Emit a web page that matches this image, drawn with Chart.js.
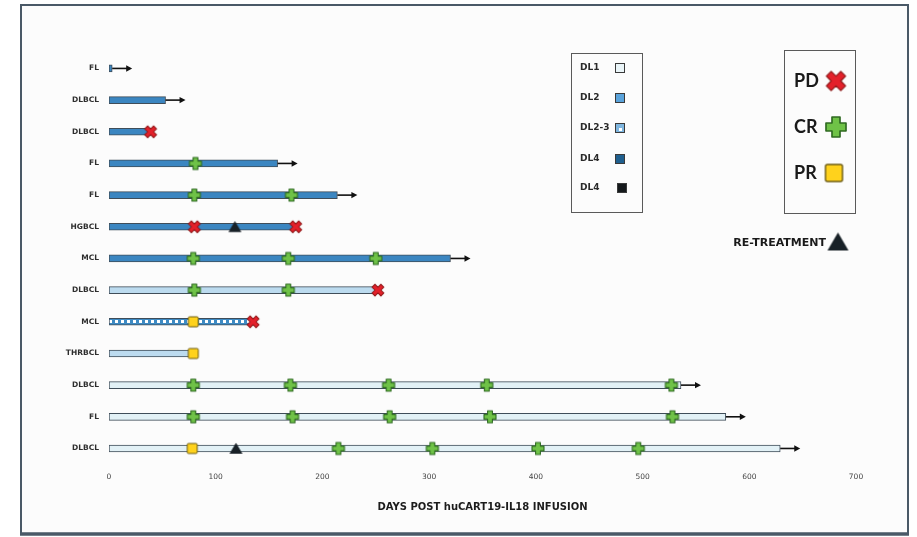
<!DOCTYPE html>
<html>
<head>
<meta charset="utf-8">
<script src="https://cdn.jsdelivr.net/npm/chart.js@4.4.1/dist/chart.umd.min.js"></script>
<style>
  html, body { margin: 0; padding: 0; background: #ffffff; }
  #wrap { width: 917px; height: 537px; position: relative; }
</style>
</head>
<body>
<div id="wrap"><canvas id="swimmer" width="917" height="537"></canvas></div>
<script>
// ---- Patient swimmer data (days post infusion) ----
const patients = ['FL', 'DLBCL', 'DLBCL', 'FL', 'FL', 'HGBCL', 'MCL', 'DLBCL', 'MCL', 'THRBCL', 'DLBCL', 'FL', 'DLBCL'];
const doseLevel = ['DL2', 'DL2', 'DL2', 'DL2', 'DL2', 'DL4', 'DL4', 'DL1', 'DL2-3', 'DL1', 'DL1', 'DL1', 'DL1'];
const followUpDays = [3, 53, 39, 158, 214, 175, 320, 252, 135, 79, 536, 578, 629];
const ongoing = [true, true, false, true, true, false, true, false, false, false, true, true, true];
const crDays = [[], [], [], [81], [80, 171], [], [79, 168, 250], [80, 168], [], [], [79, 170, 262, 354, 527], [79, 172, 263, 357, 528], [215, 303, 402, 496]];
const pdDays = [[], [], [39], [], [], [80, 175], [], [252], [135], [], [], [], []];
const prDays = [[], [], [], [], [], [], [], [], [79], [79], [], [], [78]];
const retreatDays = [[], [], [], [], [], [118], [], [], [], [], [], [], [119]];
const xTicks = [0, 100, 200, 300, 400, 500, 600, 700];
const axisTitle = 'DAYS POST huCART19-IL18 INFUSION';
const doseLegend = ['DL1', 'DL2', 'DL2-3', 'DL4', 'DL4'];
const responseLegend = ['PD', 'CR', 'PR'];
const retreatLabel = 'RE-TREATMENT';

// ---- Styling ----
const FONT = "'DejaVu Sans', 'Open Sans', sans-serif";
const KEY_FONT = "Lato, 'Open Sans', sans-serif";
const BAR_THICKNESS = 7;
const rowShade = ['#3b86c1', '#3b86c1', '#3b86c1', '#3b86c1', '#3b86c1', '#3b86c1', '#3b86c1',
                  '#bcdbef', null, '#bcdbef', '#e2f1f6', '#e2f1f6', '#e2f1f6'];

function dottedPattern(base, dot) {
  const c = document.createElement('canvas');
  c.width = 6; c.height = 7;
  const g = c.getContext('2d');
  g.fillStyle = base; g.fillRect(0, 0, 6, 7);
  g.fillStyle = dot; g.fillRect(1, 2, 3, 3);
  return document.createElement('canvas').getContext('2d').createPattern(c, 'repeat');
}
const dl23Fill = dottedPattern('#3d8ac3', '#ffffff');

function crossPath(g, s, t) {
  g.beginPath();
  g.moveTo(-t, -s); g.lineTo(t, -s); g.lineTo(t, -t); g.lineTo(s, -t);
  g.lineTo(s, t); g.lineTo(t, t); g.lineTo(t, s); g.lineTo(-t, s);
  g.lineTo(-t, t); g.lineTo(-s, t); g.lineTo(-s, -t); g.lineTo(-t, -t);
  g.closePath();
}

function makeMarker(kind, size) {
  const pad = 3;
  const c = document.createElement('canvas');
  c.width = size + pad * 2; c.height = size + pad * 2;
  const g = c.getContext('2d');
  g.translate(c.width / 2, c.height / 2);
  g.lineJoin = 'round';
  if (kind === 'cr') {
    crossPath(g, size / 2, size * 0.2);
    g.fillStyle = '#6fc247'; g.fill();
    g.lineWidth = Math.max(1.1, size / 12); g.strokeStyle = '#2f6a22'; g.stroke();
  } else if (kind === 'pd') {
    g.rotate(Math.PI / 4);
    crossPath(g, size * 0.6, size * 0.2);
    g.fillStyle = '#e3202a'; g.fill();
    g.lineWidth = Math.max(1, size / 14); g.strokeStyle = '#8e1818'; g.stroke();
  } else if (kind === 'pr') {
    const h = size / 2;
    g.beginPath();
    g.roundRect(-h, -h, size, size, size * 0.12);
    g.fillStyle = '#ffd21c'; g.fill();
    g.lineWidth = Math.max(1, size / 12); g.strokeStyle = '#6d5c12'; g.stroke();
  } else if (kind === 'rt') {
    const h = size / 2;
    g.beginPath();
    g.moveTo(0, -h * 0.9); g.lineTo(h, h * 0.8); g.lineTo(-h, h * 0.8); g.closePath();
    g.fillStyle = '#182127'; g.fill();
  }
  return c;
}

const markers = {
  cr: makeMarker('cr', 12),
  pd: makeMarker('pd', 10.5),
  pr: makeMarker('pr', 10),
  rt: makeMarker('rt', 13)
};

function toPoints(list) {
  return list.flatMap((days, row) => days.map(d => ({ x: d, y: row })));
}

// ---- Plugins: frame, ongoing-follow-up arrows, legends ----
const framePlugin = {
  id: 'frame',
  beforeDraw(chart) {
    const g = chart.ctx;
    g.save();
    g.fillStyle = '#fcfcfc';
    g.fillRect(21, 5, 887, 529);
    g.restore();
  },
  beforeDatasetsDraw(chart) {
    // line the dotted fill up with the bar it belongs to
    const row = doseLevel.indexOf('DL2-3');
    if (row < 0 || !dl23Fill.setTransform) return;
    const top = Math.round(chart.scales.y.getPixelForValue(row) - BAR_THICKNESS / 2);
    dl23Fill.setTransform(new DOMMatrix().translate(0, top));
  },
  afterDraw(chart) {
    const g = chart.ctx;
    g.save();
    g.strokeStyle = '#4a5967';
    g.lineWidth = 2;
    g.strokeRect(21, 5, 887, 529);
    g.lineWidth = 3.5;
    g.beginPath(); g.moveTo(20, 534); g.lineTo(909, 534); g.stroke();
    g.restore();
  }
};

const arrowPlugin = {
  id: 'ongoingArrows',
  afterDatasetDraw(chart, args) {
    if (args.index !== 0) return;
    const g = chart.ctx;
    const xs = chart.scales.x, ys = chart.scales.y;
    g.save();
    g.strokeStyle = '#111'; g.fillStyle = '#111'; g.lineWidth = 1.6;
    ongoing.forEach((on, row) => {
      if (!on) return;
      const x0 = xs.getPixelForValue(followUpDays[row]);
      const y = ys.getPixelForValue(row);
      const x1 = x0 + 20;
      g.beginPath(); g.moveTo(x0, y); g.lineTo(x1 - 5, y); g.stroke();
      g.beginPath(); g.moveTo(x1, y); g.lineTo(x1 - 6, y - 3.2); g.lineTo(x1 - 6, y + 3.2); g.closePath(); g.fill();
    });
    g.restore();
  }
};

const legendPlugin = {
  id: 'customLegends',
  afterDraw(chart) {
    const g = chart.ctx;
    g.save();
    // dose-level box
    g.strokeStyle = '#5a5a5a'; g.lineWidth = 1;
    g.strokeRect(571.5, 53.5, 71, 159);
    const doseY = [68, 98, 128, 159, 188];
    const swatch = {
      'DL1': '#eaf5f8', 'DL2': '#5aa3db', 'DL2-3': dottedPattern('#7fb6df', '#ffffff'), 'DL4': '#1f5f8e'
    };
    g.font = 'bold 9px ' + FONT; g.textBaseline = 'middle'; g.textAlign = 'left';
    doseLegend.forEach((lab, i) => {
      g.fillStyle = '#2a2a2a';
      g.fillText(lab, 580, doseY[i]);
      const fill = (i === 4) ? '#15191c' : swatch[lab];
      const cx = (i === 4) ? 622 : 620;
      g.fillStyle = fill;
      g.fillRect(cx - 5, doseY[i] - 5, 10, 10);
      g.strokeStyle = '#3a3a3a'; g.lineWidth = 1;
      g.strokeRect(cx - 5 + 0.5, doseY[i] - 5 + 0.5, 9, 9);
    });
    // response box
    g.strokeStyle = '#5a5a5a';
    g.strokeRect(784.5, 50.5, 71, 163);
    const respY = [81, 127, 173];
    g.font = 'bold 18px ' + KEY_FONT; g.fillStyle = '#1a1a1a';
    responseLegend.forEach((lab, i) => g.fillText(lab, 794, respY[i]));
    const big = { pd: makeMarker('pd', 17), cr: makeMarker('cr', 20), pr: makeMarker('pr', 17) };
    [['pd', 836], ['cr', 836], ['pr', 834]].forEach(([k, cx], i) => {
      const m = big[k];
      g.drawImage(m, cx - m.width / 2, respY[i] - m.height / 2);
    });
    // re-treatment key
    g.font = 'bold 11px ' + FONT; g.textAlign = 'right'; g.fillStyle = '#1a1a1a';
    g.fillText(retreatLabel, 826, 243);
    const tri = makeMarker('rt', 21);
    g.drawImage(tri, 838 - tri.width / 2, 242 - tri.height / 2);
    g.restore();
  }
};

// ---- Chart ----
const ctx = document.getElementById('swimmer').getContext('2d');
new Chart(ctx, {
  type: 'bar',
  data: {
    datasets: [
      {
        label: 'Follow-up',
        indexAxis: 'y',
        data: followUpDays.map((d, row) => ({ x: [0, d], y: row })),
        backgroundColor: followUpDays.map((d, i) => doseLevel[i] === 'DL2-3' ? dl23Fill : rowShade[i]),
        borderColor: '#3f4d59',
        borderWidth: 1,
        borderSkipped: false,
        barThickness: BAR_THICKNESS,
        grouped: false,
        order: 3
      },
      { type: 'scatter', label: 'CR', data: toPoints(crDays), pointStyle: markers.cr, order: 1 },
      { type: 'scatter', label: 'PD', data: toPoints(pdDays), pointStyle: markers.pd, order: 1 },
      { type: 'scatter', label: 'PR', data: toPoints(prDays), pointStyle: markers.pr, order: 1 },
      { type: 'scatter', label: 'Re-treatment', data: toPoints(retreatDays), pointStyle: markers.rt, order: 1 }
    ]
  },
  options: {
    responsive: false,
    animation: false,
    devicePixelRatio: 1,
    events: [],
    layout: { padding: { left: 0, right: 61, top: 52.6, bottom: 23.7 } },
    plugins: { legend: { display: false }, tooltip: { enabled: false } },
    scales: {
      x: {
        type: 'linear', min: 0, max: 700, offset: false,
        grid: { display: false, drawTicks: false },
        border: { display: false },
        afterBuildTicks: s => { s.ticks = xTicks.map(v => ({ value: v })); },
        ticks: { font: { family: FONT, size: 7.5 }, color: '#444', padding: 8 },
        title: {
          display: true, text: axisTitle, color: '#1c1c1c',
          font: { family: FONT, size: 10, weight: 'bold' },
          padding: { top: 12, bottom: 0 }
        }
      },
      y: {
        type: 'linear', min: -0.5, max: patients.length - 0.5, reverse: true, offset: false,
        grid: { display: false, drawTicks: false },
        border: { display: false },
        afterBuildTicks: s => { s.ticks = patients.map((p, i) => ({ value: i })); },
        afterFit: s => { s.width = 109; },
        ticks: {
          font: { family: FONT, size: 7.5, weight: 'bold' }, color: '#2e2e2e', padding: 10,
          callback: v => patients[v]
        }
      }
    }
  },
  plugins: [framePlugin, arrowPlugin, legendPlugin]
});
</script>
</body>
</html>
